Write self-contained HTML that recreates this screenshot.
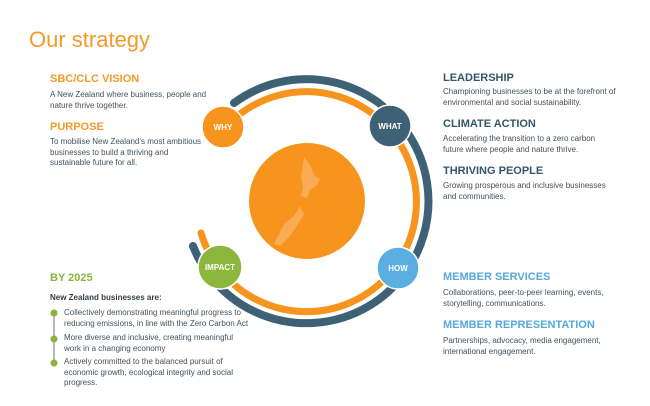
<!DOCTYPE html><html><head><style>
body{margin:0;width:650px;height:406px;background:#fff;position:relative;overflow:hidden;font-family:"Liberation Sans",sans-serif;color:#44515c}
.a{position:absolute;white-space:nowrap}
.h{font-weight:bold;font-size:11px;line-height:12px}
.b{font-size:8px;line-height:10.5px}
.o{color:#f39a2a}.d{color:#33566b}.l{color:#55a9dc}.g{color:#8ab43a}
</style></head><body>
<div class="a o" style="left:29px;top:27px;font-size:22px;font-weight:300">Our strategy</div>
<div class="a h o" style="left:50px;top:73px">SBC/CLC VISION</div>
<div class="a b" style="left:50px;top:90px">A New Zealand where business, people and<br>nature thrive together.</div>
<div class="a h o" style="left:50px;top:121px">PURPOSE</div>
<div class="a b" style="left:50px;top:137px">To mobilise New Zealand’s most ambitious<br>businesses to build a thriving and<br>sustainable future for all.</div>

<div class="a h d" style="left:443px;top:72px">LEADERSHIP</div>
<div class="a b" style="left:443px;top:87px">Championing businesses to be at the forefront of<br>environmental and social sustainability.</div>
<div class="a h d" style="left:443px;top:118px">CLIMATE ACTION</div>
<div class="a b" style="left:443px;top:134px">Accelerating the transition to a zero carbon<br>future where people and nature thrive.</div>
<div class="a h d" style="left:443px;top:165px">THRIVING PEOPLE</div>
<div class="a b" style="left:443px;top:181px">Growing prosperous and inclusive businesses<br>and communities.</div>
<div class="a h l" style="left:443px;top:271px">MEMBER SERVICES</div>
<div class="a b" style="left:443px;top:288px">Collaborations, peer-to-peer learning, events,<br>storytelling, communications.</div>
<div class="a h l" style="left:443px;top:319px">MEMBER REPRESENTATION</div>
<div class="a b" style="left:443px;top:336px">Partnerships, advocacy, media engagement,<br>international engagement.</div>

<div class="a h g" style="left:50px;top:272px">BY 2025</div>
<div class="a" style="left:50px;top:293px;font-size:8px;font-weight:bold;color:#2e3f4c">New Zealand businesses are:</div>
<div class="a b" style="left:64px;top:308px">Collectively demonstrating meaningful progress to<br>reducing emissions, in line with the Zero Carbon Act</div>
<div class="a b" style="left:64px;top:333px">More diverse and inclusive, creating meaningful<br>work in a changing economy</div>
<div class="a b" style="left:64px;top:357px">Actively committed to the balanced pursuit of<br>economic growth, ecological integrity and social<br>progress.</div>

<svg class="a" style="left:0;top:0" width="650" height="406">
<line x1="54" y1="313" x2="54" y2="363" stroke="#9aa3ab" stroke-width="1.5"/>
<circle cx="54" cy="313" r="3.5" fill="#8ab43a"/>
<circle cx="54" cy="339" r="3.5" fill="#8ab43a"/>
<circle cx="54" cy="363" r="3.5" fill="#8ab43a"/>
<path d="M234 103 A122 122 0 1 1 193 246" fill="none" stroke="#3e6175" stroke-width="8" stroke-linecap="round"/>
<path d="M240 114 A110 110 0 1 1 201 233" fill="none" stroke="#f7941d" stroke-width="7" stroke-linecap="round"/>
<circle cx="307" cy="201" r="58" fill="#f7941d"/>
<path d="M304 157 l6 8 l4 10 l6 4 l-3 6 l-7 5 l-3 8 l-6 -2 l2 -9 l-2 -10 z M300 206 l-6 10 l-10 8 l-6 12 l-4 8 l6 2 l10 -10 l8 -12 l6 -10 z" fill="#f9ac55"/>
<g font-family="Liberation Sans" font-weight="bold" font-size="8" fill="#fff" text-anchor="middle">
<circle cx="223" cy="127" r="21" fill="#f7941d" stroke="#fff" stroke-width="1.5"/><text x="223" y="130">WHY</text>
<circle cx="390" cy="126" r="21" fill="#3e6175" stroke="#fff" stroke-width="1.5"/><text x="390" y="129">WHAT</text>
<circle cx="398" cy="268" r="21" fill="#5aafe0" stroke="#fff" stroke-width="1.5"/><text x="398" y="271">HOW</text>
<circle cx="220" cy="267" r="22" fill="#8cb63c" stroke="#fff" stroke-width="1.5"/><text x="220" y="270">IMPACT</text>
</g>
</svg>
</body></html>
